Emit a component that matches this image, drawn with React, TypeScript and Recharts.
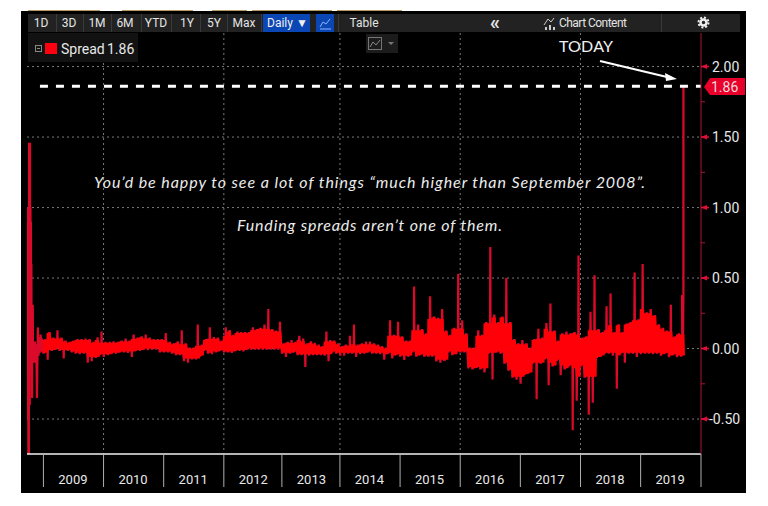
import React from "react";
import { ComposedChart, Line, XAxis, YAxis, CartesianGrid, ReferenceLine } from "recharts";

// Horizontal scale: trading-day counter, 0 = first session of 2009
const yearStartDays = [0, 260, 520, 780, 1031, 1282, 1542, 1802, 2062, 2322, 2582, 2843];
const yearLabels = ["2009", "2010", "2011", "2012", "2013", "2014", "2015", "2016", "2017", "2018", "2019"];
const biennialDays = [260, 780, 1282, 1802, 2322];
const yTicks = [-0.5, -0.25, 0, 0.25, 0.5, 0.75, 1, 1.25, 1.5, 1.75, 2];
const yGrid = [-0.5, 0, 0.5, 1, 1.5, 2];
const currentSpread = 1.86;
const latestDay = 2582 + 185;
const binsPerYear = 15;

// Late 2008 crisis section
const crisisDays = [-71, -70, -69, -68, -67, -66, -65, -64, -63, -62, -61, -60, -59, -58, -57, -56, -55, -54, -53, -52, -51, -50, -49, -48, -47, -46, -45, -43, -40, -37, -34, -31, -28, -24, -21, -18, -15, -12, -9, -6, -3];
const crisisValues = [-0.45, 1.0, -0.45, 1.0, -0.5, 1.0, -0.75, 1.0, -0.75, 1.46, -0.4, 1.46, -0.4, 1.46, -0.1, 1.0, -0.05, 0.9, 0.0, 0.6, -0.05, 0.25, -0.35, 0.2, -0.05, 0.31, -0.05, 0.05, -0.1, 0.05, -0.1, 0.03, -0.35, 0.15, -0.05, 0.08, -0.03, 0.1, -0.02, 0.07, -0.02];

// Upper and lower envelope of the daily line, per slice of each year
const high2009 = [0.06, 0.11, 0.07, 0.13, 0.07, 0.05, 0.04, 0.05, 0.06, 0.06, 0.07, 0.06, 0.04, 0.08, 0.12];
const low2009 = [-0.03, -0.08, -0.01, 0.0, -0.01, -0.07, -0.01, -0.02, -0.03, -0.04, -0.03, -0.1, -0.09, -0.06, -0.04];
const high2010 = [0.04, 0.04, 0.05, 0.04, 0.05, 0.07, 0.05, 0.1, 0.07, 0.08, 0.1, 0.07, 0.06, 0.06, 0.06];
const low2010 = [-0.06, -0.04, -0.03, -0.03, -0.02, -0.02, -0.03, -0.06, -0.01, -0.01, 0.0, -0.01, 0.0, 0.0, -0.02];
const high2011 = [0.11, 0.04, 0.03, 0.05, 0.13, 0.03, 0.0, 0.0, 0.17, 0.02, 0.06, 0.15, 0.08, 0.07, 0.05];
const low2011 = [-0.02, -0.02, -0.03, -0.04, -0.04, -0.09, -0.1, -0.07, -0.07, -0.05, -0.01, -0.03, -0.04, -0.02, -0.01];
const high2012 = [0.15, 0.13, 0.09, 0.12, 0.11, 0.11, 0.11, 0.15, 0.13, 0.14, 0.17, 0.28, 0.13, 0.12, 0.19];
const low2012 = [-0.02, -0.02, -0.03, -0.01, -0.01, -0.02, 0.0, 0.0, 0.0, 0.0, 0.0, 0.0, 0.0, 0.0, 0.0];
const high2013 = [0.03, 0.04, 0.06, 0.04, 0.09, 0.07, 0.03, 0.05, 0.04, 0.02, 0.01, 0.12, 0.06, 0.05, 0.03];
const low2013 = [-0.03, -0.06, -0.03, -0.02, -0.04, -0.04, -0.13, -0.05, -0.04, -0.04, -0.04, -0.05, -0.09, -0.02, -0.03];
const high2014 = [0.01, 0.02, 0.09, 0.17, 0.02, 0.03, 0.05, 0.05, 0.03, 0.02, 0.01, 0.0, 0.2, 0.09, 0.19];
const low2014 = [-0.05, -0.05, -0.03, -0.03, -0.06, -0.04, -0.03, -0.02, -0.03, -0.03, -0.04, -0.08, -0.03, -0.07, -0.04];
const high2015 = [0.08, 0.05, 0.05, 0.44, 0.17, 0.13, 0.1, 0.37, 0.22, 0.21, 0.28, 0.12, 0.09, 0.14, 0.53];
const low2015 = [-0.05, -0.08, -0.05, -0.02, -0.05, -0.04, -0.05, -0.05, -0.05, -0.09, -0.1, -0.08, -0.02, -0.04, -0.04];
const high2016 = [0.2, 0.1, 0.0, 0.0, 0.13, 0.09, 0.18, 0.72, 0.24, 0.18, 0.22, 0.5, 0.18, 0.06, 0.03];
const low2016 = [-0.02, -0.02, -0.14, -0.14, -0.13, -0.14, -0.17, -0.03, -0.22, -0.02, -0.03, -0.1, -0.15, -0.2, -0.22];
const high2017 = [0.06, 0.03, 0.0, 0.06, 0.14, 0.07, 0.18, 0.32, 0.12, 0.05, 0.1, 0.12, 0.1, 0.11, 0.66];
const low2017 = [-0.25, -0.18, -0.17, -0.1, -0.36, -0.1, -0.07, -0.26, -0.12, -0.08, -0.19, -0.14, -0.12, -0.58, -0.37];
const high2018 = [0.07, 0.08, 0.26, 0.52, 0.13, 0.11, 0.3, 0.39, 0.11, 0.165, 0.11, 0.17, 0.18, 0.54, 0.2];
const low2018 = [-0.12, -0.2, -0.47, -0.385, -0.06, -0.05, -0.03, -0.03, -0.05, -0.285, -0.03, -0.1, -0.03, -0.03, -0.06];
const high2019 = [0.6, 0.25, 0.28, 0.23, 0.165, 0.14, 0.12, 0.31, 0.08, 0.1, 0.38];
const low2019 = [-0.04, -0.03, -0.03, -0.04, -0.03, -0.05, -0.03, -0.06, -0.04, -0.06, -0.05];

const highs = [high2009, high2010, high2011, high2012, high2013, high2014, high2015, high2016, high2017, high2018, high2019];
const lows = [low2009, low2010, low2011, low2012, low2013, low2014, low2015, low2016, low2017, low2018, low2019];

const toolbarLabels = [
  ["1D", 41], ["3D", 69], ["1M", 97], ["6M", 125], ["YTD", 156], ["1Y", 187], ["5Y", 214], ["Max", 244],
] as [string, number][];

type Pt = { day: number; spread: number };
const median5 = (arr: number[], k: number) => {
  const w = arr.slice(Math.max(0, k - 2), k + 3).sort((p, q) => p - q);
  return w[Math.floor(w.length / 2)];
};

// spikes: the read envelope drawn as thin verticals; core: the dense body of the band
const spikes: Pt[] = crisisDays.map((day, i) => ({ day, spread: crisisValues[i] }));
const core: Pt[] = [];
const allHigh = highs.flat();
const allLow = lows.flat();
let n = 0;
highs.forEach((h, y) => {
  const start = yearStartDays[y];
  const step = (yearStartDays[y + 1] - start) / binsPerYear;
  h.forEach((v, i) => {
    const l = lows[y][i];
    const ch = Math.min(v, median5(allHigh, n));
    const cl = Math.max(l, median5(allLow, n));
    const t = start + step * i;
    spikes.push({ day: t, spread: cl }, { day: t + 1, spread: l }, { day: t + 2, spread: cl });
    spikes.push({ day: t + step / 2 - 1, spread: ch }, { day: t + step / 2, spread: v }, { day: t + step / 2 + 1, spread: ch });
    [0, 1, 2, 3, 4, 5].forEach((k) => {
      core.push({ day: t + (k * step) / 6, spread: k % 2 === 0 ? ch : cl });
    });
    n += 1;
  });
});
spikes.push({ day: latestDay - 6, spread: 0.38 }, { day: latestDay - 5, spread: -0.03 }, { day: latestDay - 3, spread: 0.38 }, { day: latestDay - 2, spread: -0.02 });
spikes.push({ day: latestDay, spread: 0.38 }, { day: latestDay, spread: currentSpread });

const UI = "Roboto, 'Liberation Sans', sans-serif";
const AXIS_RED = "#a8123a";

function YTick(props: any) {
  const { x, y, payload } = props;
  const v = payload.value as number;
  const major = Math.abs(v * 2 - Math.round(v * 2)) < 1e-6;
  if (!major) return <line x1={x} x2={x + 4} y1={y} y2={y} stroke={AXIS_RED} strokeWidth={1} />;
  return (
    <g>
      <polygon points={`${x},${y} ${x + 6},${y - 2.5} ${x + 6},${y + 2.5}`} fill="#e0103a" />
      <line x1={x} x2={x + 8} y1={y} y2={y} stroke="#e0103a" strokeWidth={1.5} />
      <text x={v < 0 ? x + 8 : x + 11} y={y + 5} fill="#e8e8e8" fontFamily={UI} fontSize={14}>
        {v < 0 ? `-${Math.abs(v).toFixed(2)}` : v.toFixed(2)}
      </text>
    </g>
  );
}

function XTick(props: any) {
  const { x, y, payload } = props;
  const idx = yearStartDays.indexOf(payload.value);
  return (
    <g>
      <line x1={x} x2={x} y1={y} y2={y + 33} stroke="#b0b0b0" strokeWidth={1} />
      {yearLabels[idx] ? (
        <text x={x + 29.5} y={y + 30} textAnchor="middle" fill="#e8e8e8" fontFamily={UI} fontSize={13}>
          {yearLabels[idx]}
        </text>
      ) : null}
    </g>
  );
}

export default function App() {
  return (
    <div style={{ position: "absolute", left: 0, top: 0, width: 768, height: 506, background: "#fff", overflow: "hidden" }}>
      <div style={{ position: "absolute", left: 21, top: 11, width: 725, height: 482, background: "#000" }}>
        <ComposedChart width={725} height={482} margin={{ top: 22, right: 0, bottom: 0, left: 6 }}>
          <CartesianGrid
            stroke="#7a7a7a"
            strokeDasharray="2 3"
            horizontalValues={yGrid}
            verticalValues={biennialDays}
          />
          <XAxis
            dataKey="day"
            type="number"
            domain={[-71, 2843]}
            ticks={yearStartDays}
            interval={0}
            height={39}
            tickLine={false}
            tickSize={0}
            tickMargin={0}
            axisLine={{ stroke: "#f0f0f0", strokeWidth: 1.5 }}
            tick={<XTick />}
            allowDataOverflow
          />
          <YAxis
            orientation="right"
            type="number"
            domain={[-0.748, 2.238]}
            ticks={yTicks}
            interval={0}
            width={45}
            tickLine={false}
            tickSize={0}
            tickMargin={0}
            axisLine={{ stroke: AXIS_RED, strokeWidth: 1 }}
            tick={<YTick />}
            allowDataOverflow
          />
          <Line
            data={spikes}
            dataKey="spread"
            name="Spread"
            type="linear"
            stroke="#dc0a2a"
            strokeWidth={2.2}
            dot={false}
            activeDot={false}
            isAnimationActive={false}
          />
          <Line
            data={core}
            dataKey="spread"
            name="Spread band"
            type="linear"
            stroke="#ff0008"
            strokeWidth={1.6}
            dot={false}
            activeDot={false}
            isAnimationActive={false}
          />
          <ReferenceLine
            segment={[{ x: -15, y: currentSpread }, { x: 2843, y: currentSpread }]}
            stroke="#fff"
            strokeWidth={3}
            strokeDasharray="8 8"
          />
        </ComposedChart>
      </div>
      <svg width={768} height={506} style={{ position: "absolute", left: 0, top: 0, pointerEvents: "none" }}>
        {[[28, 100], [122, 193], [212, 247], [252, 332], [337, 402]].map(([a, b]) => (
          <rect key={a} x={a} y={10} width={b - a} height={1} fill="#b49a60" />
        ))}
        <rect x={28} y={14} width={712} height={18} fill="#222" />
        <rect x={263} y={14} width={47} height={18} fill="#0a46b4" />
        <rect x={316} y={14} width={18} height={18} fill="#0a46b4" />
        {[56, 83, 111, 141, 171, 200, 227, 261, 338, 661].map((x) => (
          <rect key={x} x={x} y={14} width={1} height={18} fill="#3a3a3a" />
        ))}
        {toolbarLabels.map(([t, x]) => (
          <text key={t} x={x} y={27} textAnchor="middle" fill="#e4e4e4" fontFamily={UI} fontSize={12}>{t}</text>
        ))}
        <text x={267} y={27} fill="#f0f0f0" fontFamily={UI} fontSize={12}>Daily ▼</text>
        <polyline points="320,27 323,22 326,24 330,19" fill="none" stroke="#8fb4ff" strokeWidth={1} />
        <line x1={320} x2={331} y1={29} y2={29} stroke="#8fb4ff" strokeWidth={1} />
        <text x={364} y={27} textAnchor="middle" fill="#e4e4e4" fontFamily={UI} fontSize={12}>Table</text>
        <text x={495} y={29} textAnchor="middle" fill="#e4e4e4" fontFamily={UI} fontSize={20} fontWeight={700}>«</text>
        <polyline points="544,25 548,19 551,22 554,18" fill="none" stroke="#ccc" strokeWidth={1} />
        <rect x={545} y={27} width={2} height={3} fill="#ccc" />
        <rect x={549} y={25} width={2} height={5} fill="#ccc" />
        <rect x={553} y={27} width={2} height={3} fill="#ccc" />
        <text x={559} y={27} fill="#e4e4e4" fontFamily={UI} fontSize={12} textLength={68}>Chart Content</text>
        <circle cx={703.5} cy={22.5} r={3} fill="none" stroke="#eee" strokeWidth={2.5} />
        <circle cx={703.5} cy={22.5} r={5} fill="none" stroke="#eee" strokeWidth={2} strokeDasharray="2 1.9" />

        <rect x={28} y={33} width={110} height={29} fill="#121212" />
        <rect x={35.5} y={45.5} width={6} height={6} fill="none" stroke="#888" strokeWidth={1} />
        <line x1={37} x2={40} y1={48.5} y2={48.5} stroke="#888" />
        <rect x={45} y={43} width={12} height={11} fill="#ff0010" />
        <text x={61} y={54} fill="#e8e8e8" fontFamily={UI} fontSize={14}>Spread</text>
        <text x={107} y={54} fill="#e8e8e8" fontFamily={UI} fontSize={14}>1.86</text>

        <rect x={366} y={34} width={32} height={19} fill="#1c1c1c" />
        <rect x={368.5} y={37.5} width={13} height={12} fill="none" stroke="#777" />
        <polyline points="370,47 373,42 376,45 380,40" fill="none" stroke="#888" />
        <polygon points="388,42 394,42 391,45" fill="#777" />

        <text x={559} y={52} fill="#f2f2f2" fontFamily="Lato, sans-serif" fontSize={16} textLength={54}>TODAY</text>
        <line x1={600} y1={61} x2={667} y2={77} stroke="#fff" strokeWidth={2} />
        <polygon points="677,79 665,73 666,81" fill="#fff" />

        <polygon points="704,87 710,78 745,78 745,95 710,95" fill="#e8002a" />
        <text x={711} y={92} fill="#f2dada" fontFamily={UI} fontSize={14}>1.86</text>

        <text x={94} y={188} fill="#ececec" fontFamily="Lato, sans-serif" fontStyle="italic" fontSize={16} textLength={551}>
          You’d be happy to see a lot of things “much higher than September 2008”.
        </text>
        <text x={237} y={231} fill="#ececec" fontFamily="Lato, sans-serif" fontStyle="italic" fontSize={16} textLength={265}>
          Funding spreads aren’t one of them.
        </text>
      </svg>
    </div>
  );
}
